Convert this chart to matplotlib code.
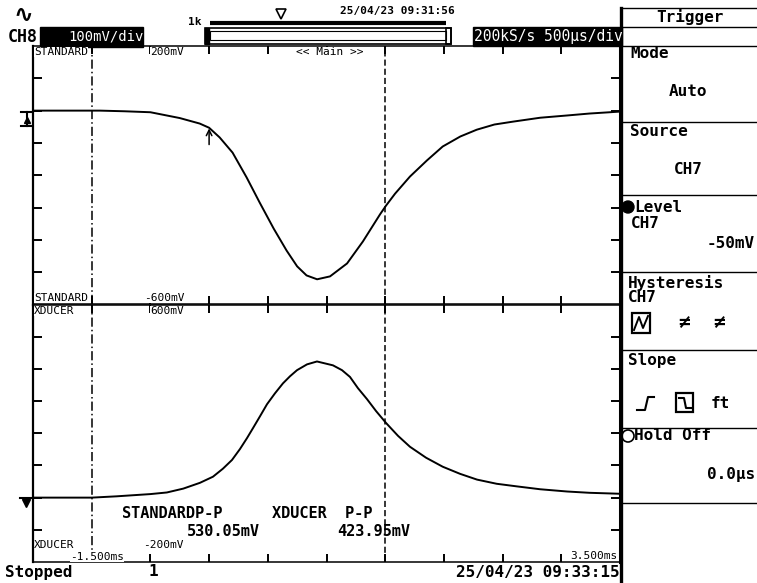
import numpy as np
import matplotlib
matplotlib.use("Agg")
import matplotlib.pyplot as plt
from matplotlib.patches import Rectangle, Circle

# traces: time in ms, level in mV
std_t = [-1.5, -1.27, -1.0, -0.93, -0.72, -0.5, -0.25, -0.08, 0.0, 0.09, 0.2, 0.32, 0.43,
         0.55, 0.66, 0.75, 0.83, 0.92, 1.03, 1.175, 1.31, 1.456, 1.507, 1.584, 1.711,
         1.856, 1.99, 2.14, 2.28, 2.43, 2.59, 2.82, 3.05, 3.24, 3.5]
std_mv = [0, 0, 0, 0, -2, -5, -23, -40, -53, -83, -130, -207, -284,
          -365, -433, -482, -510, -522, -513, -473, -405, -321, -294, -257, -204,
          -154, -111, -80, -59, -43, -34, -22, -15, -9, -3]

xdc_t = [-1.5, -1.0, -0.79, -0.5, -0.36, -0.22, -0.078, 0.033, 0.118, 0.195, 0.263, 0.323,
         0.374, 0.434, 0.493, 0.561, 0.629, 0.689, 0.749, 0.834, 0.919, 1.055, 1.132, 1.20,
         1.268, 1.345, 1.422, 1.507, 1.609, 1.711, 1.848, 1.99, 2.137, 2.282, 2.45, 2.62,
         2.82, 3.05, 3.24, 3.5]
xdc_mv = [0, 0, 4, 11, 16, 28, 46, 65, 90, 117, 151, 185,
          216, 253, 290, 324, 355, 377, 396, 414, 423, 411, 396, 375,
          340, 306, 269, 232, 192, 158, 124, 96, 74, 56, 43, 35,
          26, 19, 15, 12]

cursor_t = [-1.0, 1.5]
t_range = [-1.5, 3.5]
std_range = [-600, 200]
xdc_range = [-200, 600]

W, H = 757, 583
fig = plt.figure(figsize=(W / 100, H / 100), dpi=100)
mono = "DejaVu Sans Mono"

# screen grid: top half STANDARD, bottom half XDUCER
x0, x1, ytop, ymid, ybot = 33, 620, 46, 304.5, 562
ax_top = fig.add_axes([x0 / W, 1 - ymid / H, (x1 - x0) / W, (ymid - ytop) / H])
ax_bot = fig.add_axes([x0 / W, 1 - ybot / H, (x1 - x0) / W, (ybot - ymid) / H])

for ax, rng, t, v in [(ax_top, std_range, std_t, std_mv), (ax_bot, xdc_range, xdc_t, xdc_mv)]:
    ax.set_xlim(t_range)
    ax.set_ylim(rng)
    ax.plot(t, v, color="black", lw=1.4, solid_joinstyle="round")
    ax.set_xticks(np.arange(-1.0, 3.01, 0.5))
    ax.set_yticks(np.arange(rng[0] + 100, rng[1], 100))
    ax.tick_params(axis="y", direction="in", length=6.5, width=1.4, left=True, right=True,
                   labelleft=False)
    ax.tick_params(axis="x", direction="in", length=6, width=1.4, top=True, bottom=True,
                   labelbottom=False)
    ax.axvline(cursor_t[0], color="black", lw=1.1, ls=(0, (6, 2, 1, 2)))
    ax.axvline(cursor_t[1], color="black", lw=1.1, ls=(0, (4, 2)))
    ax.spines["left"].set_linewidth(1.6)
    ax.spines["right"].set_linewidth(2.2)
    ax.spines["top"].set_linewidth(1.1)
    ax.spines["bottom"].set_linewidth(1.1)

# trigger point arrow at 0 ms, -50 mV
ax_top.annotate("", xy=(0, -55), xytext=(0, -105),
                arrowprops=dict(arrowstyle="->", lw=1.1, color="black", shrinkA=0, shrinkB=0))

# overlay in screen pixels for the instrument chrome
ov = fig.add_axes([0, 0, 1, 1], facecolor="none")
ov.set_xlim(0, W)
ov.set_ylim(H, 0)
ov.axis("off")

def txt(x, y, s, fs=8, bold=False, ha="left", color="black", bg=None, family=mono):
    box = dict(facecolor=bg, edgecolor="none", pad=0.3) if bg else None
    ov.text(x, y, s, fontsize=fs, family=family, fontweight="bold" if bold else "normal",
            ha=ha, va="center", color=color, bbox=box)

# header
txt(23, 15, "∿", fs=17, bold=True, ha="center", family="DejaVu Sans")
txt(8, 37, "CH8", fs=12, bold=True)
ov.add_patch(Rectangle((40, 27), 103, 20, color="black"))
txt(68, 37, "100mV/div", fs=10, color="white")
txt(188, 22, "1k", fs=8, bold=True)
ov.plot([210, 446], [23, 23], color="black", lw=3, solid_capstyle="butt")
ov.plot([281], [14], marker="v", ms=7, mfc="white", mec="black", mew=1.2)
txt(340, 11, "25/04/23 09:31:56", fs=8, bold=True)
ov.add_patch(Rectangle((205, 28), 246, 16, fill=False, lw=1.2, ec="black"))
ov.add_patch(Rectangle((210, 31), 236, 9, fill=False, lw=0.8, ec="black"))
ov.add_patch(Rectangle((205, 28), 4, 16, color="black"))
ov.add_patch(Rectangle((446, 28), 5, 16, fill=False, lw=1.2, ec="black"))
ov.add_patch(Rectangle((473, 27), 149, 19, color="black"))
txt(474, 37, "200kS/s 500μs/div", fs=10.5, color="white")

# labels inside the grid
txt(34, 52, "STANDARD", bg="white")
txt(150, 52, "200mV", bg="white")
txt(330, 52, "<< Main >>", ha="center", bg="white")
txt(34, 298, "STANDARD", bg="white")
txt(144, 298, "-600mV", bg="white")
txt(34, 311, "XDUCER", bg="white")
txt(150, 311, "600mV", bg="white")
txt(34, 545, "XDUCER")
txt(143, 545, "-200mV")
txt(124, 557, "-1.500ms", ha="right", bg="white")
txt(617, 556, "3.500ms", ha="right", bg="white")

# P-P readouts
txt(122, 513, "STANDARDP-P", fs=11, bold=True)
txt(272, 513, "XDUCER  P-P", fs=11, bold=True)
txt(187, 532, "530.05mV", fs=11, bold=True)
txt(337, 532, "423.95mV", fs=11, bold=True)

# ground markers
ov.plot([21, 32], [112, 112], color="black", lw=1.5)
ov.plot([26.5, 26.5], [112, 126], color="black", lw=1.5)
ov.plot([21, 32], [126, 126], color="black", lw=1.5)
ov.plot([26.5], [120], marker="^", ms=5, color="black")
ov.plot([20, 32], [498, 498], color="black", lw=1.5)
ov.plot([26], [503], marker="v", ms=6, color="black")

# status line
txt(5, 572, "Stopped", fs=11.5, bold=True)
txt(148, 572, "1", fs=11.5, bold=True)
txt(620, 572, "25/04/23 09:33:15", fs=11.5, bold=True, ha="right")

# trigger panel
ov.plot([621, 621], [8, 583], color="black", lw=2.4)
for y in [8, 27, 46, 122, 195, 272, 350, 428, 503]:
    ov.plot([621, W], [y, y], color="black", lw=1.0)
pf = 11.5
txt(690, 17, "Trigger", fs=pf, bold=True, ha="center")
txt(630, 54, "Mode", fs=pf, bold=True)
txt(688, 92, "Auto", fs=pf, bold=True, ha="center")
txt(630, 131, "Source", fs=pf, bold=True)
txt(688, 170, "CH7", fs=pf, bold=True, ha="center")
ov.add_patch(Circle((628, 207), 6, color="black"))
txt(634, 207, "Level", fs=pf, bold=True)
txt(631, 223, "CH7", fs=pf, bold=True)
txt(755, 243, "-50mV", fs=pf, bold=True, ha="right")
txt(628, 283, "Hysteresis", fs=pf, bold=True)
txt(628, 298, "CH7", fs=pf, bold=True)
ov.add_patch(Rectangle((632, 313), 18, 20, fill=False, lw=1.6, ec="black"))
ov.plot([634, 639, 643, 648], [330, 317, 328, 316], color="black", lw=1.4)
txt(684, 323, "≠", fs=14, bold=True, ha="center")
txt(719, 323, "≠", fs=14, bold=True, ha="center")
txt(628, 360, "Slope", fs=pf, bold=True)
ov.plot([637, 645, 648, 654], [410, 410, 397, 397], color="black", lw=1.5)
ov.add_patch(Rectangle((676, 393), 17, 19, fill=False, lw=1.6, ec="black"))
ov.plot([679, 684, 686, 691], [398, 398, 408, 408], color="black", lw=1.5)
txt(711, 403, "ft", fs=pf, bold=True)
ov.add_patch(Circle((628, 436), 6, fill=False, lw=1.2, ec="black"))
txt(634, 436, "Hold Off", fs=pf, bold=True)
txt(755, 474, "0.0μs", fs=pf, bold=True, ha="right")

fig.savefig("out.png", dpi=100, facecolor="white")
